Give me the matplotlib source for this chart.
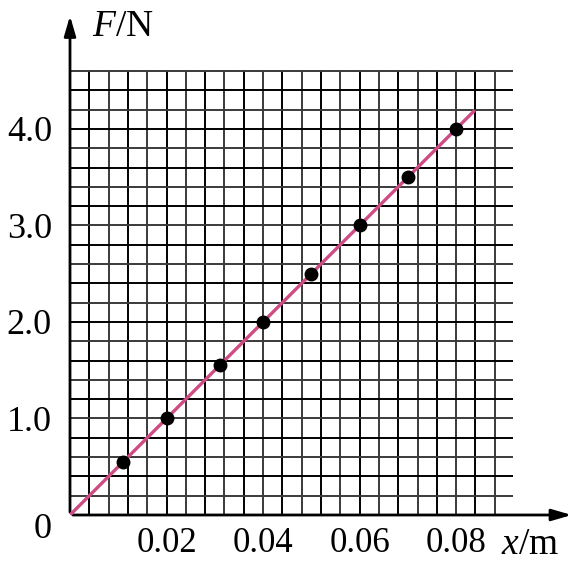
import numpy as np
import matplotlib
matplotlib.use('Agg')
import matplotlib.pyplot as plt
import matplotlib.transforms as mtransforms

plt.rcParams['font.family'] = ['Liberation Serif', 'DejaVu Serif']
plt.rcParams['mathtext.fontset'] = 'custom'
plt.rcParams['mathtext.rm'] = 'Liberation Serif'
plt.rcParams['mathtext.it'] = 'Liberation Serif:italic'

# 测量数据
x_data = [0.011, 0.02, 0.031, 0.04, 0.05, 0.06, 0.07, 0.08]
F_data = [0.55, 1.0, 1.55, 2.0, 2.5, 3.0, 3.5, 4.0]
# 拟合直线 F = k x
k = 50.0
line_x = [0.0, 0.0836]

x_ticks = [0.02, 0.04, 0.06, 0.08]
x_ticklabels = ['0.02', '0.04', '0.06', '0.08']
y_ticks = [0, 1, 2, 3, 4]
y_ticklabels = ['0', '1.0', '2.0', '3.0', '4.0']

fig = plt.figure(figsize=(5.76, 5.62), dpi=100)
ax = fig.add_axes([70/576, 47/562, 502/576, 500/562])
ax.set_xlim(0, 0.104)
ax.set_ylim(0, 5.18)
for s in ax.spines.values():
    s.set_visible(False)

# 坐标纸
gx = np.arange(1, 23) * 0.004
gy = np.arange(1, 24) * 0.2
for i, v in enumerate(gx):
    ax.vlines(v, 0, 4.6, color='black' if i % 2 == 0 else '#3a3a3a', lw=1.4, zorder=1)
for i, v in enumerate(gy):
    ax.hlines(v, 0, 0.0918, color='black' if i % 2 == 1 else '#3a3a3a', lw=1.4, zorder=1)

# 坐标轴
ax.annotate('', xy=(0.1045, 0), xytext=(0, 0), annotation_clip=False,
            arrowprops=dict(arrowstyle='-|>,head_length=1.2,head_width=0.35', color='black', lw=2))
ax.annotate('', xy=(0, 5.2), xytext=(0, 0), annotation_clip=False,
            arrowprops=dict(arrowstyle='-|>,head_length=1.2,head_width=0.35', color='black', lw=2))

ax.plot(line_x, [k * v for v in line_x], color='#cf4b84', lw=2.4, zorder=3)
ax.plot(x_data, F_data, 'o', color='black', ms=9, zorder=4)

ax.set_xticks(x_ticks)
ax.set_xticklabels(x_ticklabels, fontsize=25)
ax.set_yticks(y_ticks)
ax.set_yticklabels(y_ticklabels, fontsize=26)
ax.tick_params(length=0)
ax.tick_params(axis='y', pad=13)
ax.tick_params(axis='x', pad=9)
# 原点的"0"略微下移
lbl0 = ax.get_yticklabels()[0]
lbl0.set_transform(lbl0.get_transform() + mtransforms.ScaledTranslation(0, -10/100, fig.dpi_scale_trans))

ax.text(0.0045, 5.06, r'$F$/N', fontsize=27, va='center', ha='left')
ax.text(0.0893, -0.31, r'$x$/m', fontsize=27, va='center', ha='left')

fig.savefig('out.png', dpi=100)
